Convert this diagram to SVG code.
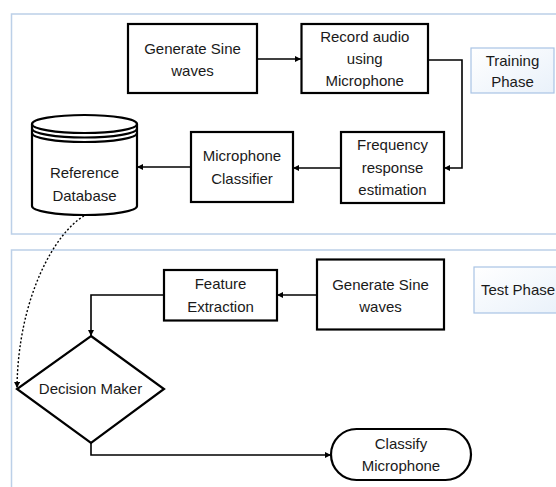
<svg xmlns="http://www.w3.org/2000/svg" width="556" height="487" viewBox="0 0 556 487">
<defs>
<style>
.panel{fill:#ffffff;stroke:#bcd0e8;stroke-width:1.5}
.box{fill:#ffffff;stroke:#000000;stroke-width:2.2}
.tag{fill:url(#tagfill);stroke:#a9c4e4;stroke-width:1.2}
.lbl{font-family:"Liberation Sans",Arial,sans-serif;font-size:15px;fill:#1a1a1a;text-anchor:middle}
.conn{fill:none;stroke:#000000;stroke-width:1.6}
.dash{fill:none;stroke:#000000;stroke-width:1.4;stroke-dasharray:2 2}
</style>
<linearGradient id="tagfill" x1="0" y1="0" x2="1" y2="1">
<stop offset="0" stop-color="#ffffff"/>
<stop offset="1" stop-color="#e9f1fa"/>
</linearGradient>
<marker id="arrs" viewBox="0 0 10 10" refX="10" refY="5" markerWidth="6" markerHeight="6" orient="auto" markerUnits="userSpaceOnUse">
<path d="M0,0 L10,5 L0,10 z" fill="#000"/>
</marker>
</defs>

<g id="panels">
<rect class="panel" x="11.5" y="14" width="560" height="220"/>
<rect class="panel" x="11.5" y="250" width="560" height="260"/>
</g>

<g id="connectors">
<line class="conn" x1="257" y1="59" x2="301" y2="59" marker-end="url(#arrs)"/>
<polyline class="conn" points="428,60 462,60 462,168 444,168" marker-end="url(#arrs)"/>
<line class="conn" x1="341" y1="168" x2="293" y2="168" marker-end="url(#arrs)"/>
<line class="conn" x1="191" y1="167" x2="137" y2="167" marker-end="url(#arrs)"/>
<line class="conn" x1="317" y1="295" x2="277" y2="295" marker-end="url(#arrs)"/>
<polyline class="conn" points="164,295 91,295 91,336" marker-end="url(#arrs)"/>
<polyline class="conn" points="91,443 91,455 331,455" marker-end="url(#arrs)"/>
<path class="dash" d="M84,216 C56,232 18,296 17,388" marker-end="url(#arrs)"/>
</g>

<g id="gen-sine-train">
<rect class="box" x="128" y="24" width="129" height="69"/>
<text class="lbl" x="192.5" y="54">Generate Sine</text>
<text class="lbl" x="192.5" y="76">waves</text>
</g>

<g id="record-audio">
<rect class="box" x="301.5" y="24" width="126.5" height="69"/>
<text class="lbl" x="364.75" y="42">Record audio</text>
<text class="lbl" x="364.75" y="64">using</text>
<text class="lbl" x="364.75" y="86">Microphone</text>
</g>

<g id="training-phase">
<rect class="tag" x="471" y="48" width="83" height="45"/>
<text class="lbl" x="512.5" y="66">Training</text>
<text class="lbl" x="512.5" y="87">Phase</text>
</g>

<g id="freq-response">
<rect class="box" x="341" y="132" width="103" height="71"/>
<text class="lbl" x="392.5" y="150">Frequency</text>
<text class="lbl" x="392.5" y="173">response</text>
<text class="lbl" x="392.5" y="195">estimation</text>
</g>

<g id="mic-classifier">
<rect class="box" x="191" y="132" width="102" height="70"/>
<text class="lbl" x="242" y="161">Microphone</text>
<text class="lbl" x="242" y="184">Classifier</text>
</g>

<g id="reference-db">
<path class="box" d="M32,124 L32,206 A52.5,9 0 0 0 137,206 L137,124"/>
<ellipse class="box" cx="84.5" cy="124" rx="52.5" ry="9"/>
<path class="box" d="M32,128.5 A52.5,9 0 0 0 137,128.5" style="fill:none"/>
<path class="box" d="M32,133 A52.5,9 0 0 0 137,133" style="fill:none"/>
<text class="lbl" x="84.5" y="178">Reference</text>
<text class="lbl" x="84.5" y="201">Database</text>
</g>

<g id="gen-sine-test">
<rect class="box" x="317" y="259.5" width="127" height="70"/>
<text class="lbl" x="380.5" y="290">Generate Sine</text>
<text class="lbl" x="380.5" y="312">waves</text>
</g>

<g id="test-phase">
<rect class="tag" x="474" y="267" width="90" height="46"/>
<text class="lbl" x="518" y="295">Test Phase</text>
</g>

<g id="feature-extraction">
<rect class="box" x="164" y="270" width="113" height="50.5"/>
<text class="lbl" x="220.5" y="289">Feature</text>
<text class="lbl" x="220.5" y="312">Extraction</text>
</g>

<g id="decision-maker">
<polygon class="box" points="91,336 164,389 91,443 17,389"/>
<text class="lbl" x="90.5" y="394">Decision Maker</text>
</g>

<g id="classify-mic">
<rect class="box" x="331" y="429" width="140" height="51" rx="25.5" ry="25.5"/>
<text class="lbl" x="401" y="449">Classify</text>
<text class="lbl" x="401" y="471">Microphone</text>
</g>
</svg>
